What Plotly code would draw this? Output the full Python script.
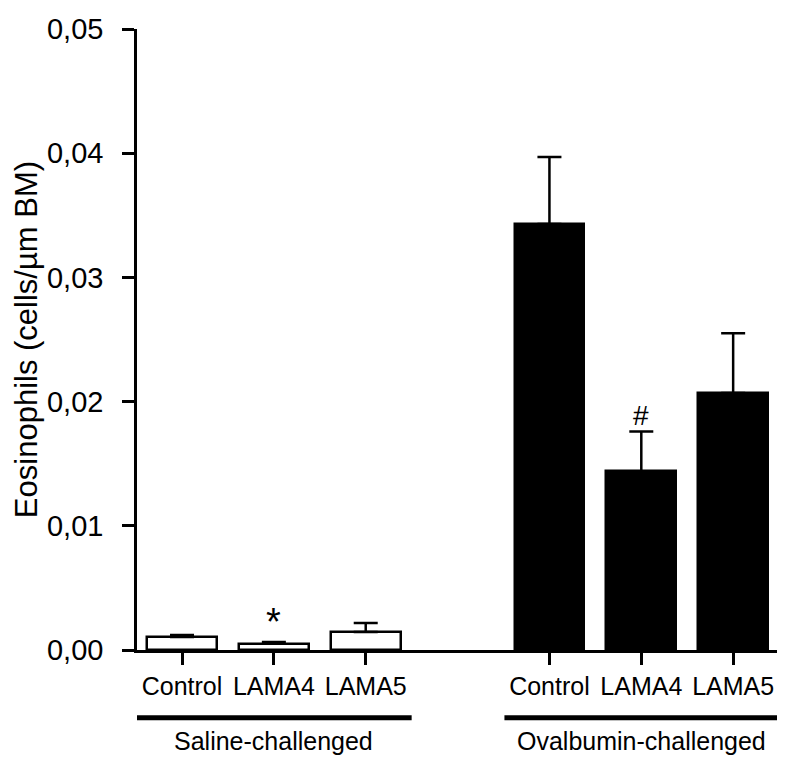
import plotly.graph_objects as go

# ---- data ----
categories = ["Control", "LAMA4", "LAMA5"]
groups = ["Saline-challenged", "Ovalbumin-challenged"]
saline_means = [0.00104, 0.00050, 0.00144]
saline_sem = [0.00016, 0.00015, 0.00073]
ova_means = [0.0343, 0.0144, 0.0207]
ova_sem = [0.0054, 0.0032, 0.0048]
y_ticks = [0.0, 0.01, 0.02, 0.03, 0.04, 0.05]

saline_x = [0, 1, 2]
ova_x = [4, 5, 6]

FONT = "Liberation Sans, Arial, sans-serif"
LW = 2.5

fig = go.Figure()
fig.add_trace(go.Bar(
    x=saline_x, y=saline_means, width=0.76,
    marker=dict(color="white", line=dict(color="black", width=LW)),
    error_y=dict(type="data", symmetric=False, array=saline_sem,
                 arrayminus=[0] * 3, color="black", thickness=LW, width=12),
    showlegend=False,
))
fig.add_trace(go.Bar(
    x=ova_x, y=ova_means, width=0.76,
    marker=dict(color="black", line=dict(color="black", width=LW)),
    error_y=dict(type="data", symmetric=False, array=ova_sem,
                 arrayminus=[0] * 3, color="black", thickness=LW, width=12),
    showlegend=False,
))

# significance markers
fig.add_annotation(x=saline_x[1], y=saline_means[1] + saline_sem[1], yshift=20,
                   text="*", showarrow=False, font=dict(family=FONT, size=38, color="black"))
fig.add_annotation(x=ova_x[1], y=ova_means[1] + ova_sem[1], yshift=16,
                   text="#", showarrow=False, font=dict(family=FONT, size=28, color="black"))

# group brackets and labels
for gx, name in [(saline_x, groups[0]), (ova_x, groups[1])]:
    fig.add_shape(type="line", xref="x", yref="paper",
                  x0=gx[0] - 0.49, x1=gx[-1] + 0.5, y0=-0.109, y1=-0.109,
                  line=dict(color="black", width=5))
    fig.add_annotation(x=gx[1], xref="x", y=-0.146, yref="paper",
                       xanchor="center", yanchor="middle",
                       text=name, showarrow=False,
                       font=dict(family=FONT, size=25, color="black"))

# y-axis title
fig.add_annotation(x=-0.1726, xref="paper", y=0.499, yref="paper",
                   xanchor="center", yanchor="middle",
                   text="Eosinophils (cells/µm BM)", textangle=-90, showarrow=False,
                   font=dict(family=FONT, size=31, color="black"))

fig.update_layout(
    width=777, height=749,
    margin=dict(l=129, r=5, t=19, b=107),
    plot_bgcolor="white", paper_bgcolor="white",
    separators=",.",
    bargap=0,
    font=dict(family=FONT, color="black"),
    xaxis=dict(
        range=[-0.49, 6.51], tickvals=saline_x + ova_x, ticktext=categories + categories,
        ticks="outside", ticklen=12, tickwidth=LW, tickcolor="black",
        showline=True, linewidth=LW, linecolor="black",
        showgrid=False, zeroline=False,
        tickfont=dict(family=FONT, size=25, color="black"),
    ),
    yaxis=dict(
        range=[0, 0.05], tickvals=y_ticks, tickformat=".2f",
        ticks="outside", ticklen=12, tickwidth=LW, tickcolor="black",
        showline=True, linewidth=LW, linecolor="black",
        showgrid=False, zeroline=False, ticklabelstandoff=13,
        tickfont=dict(family=FONT, size=29, color="black"),
    ),
)

fig.write_html("out.html")
